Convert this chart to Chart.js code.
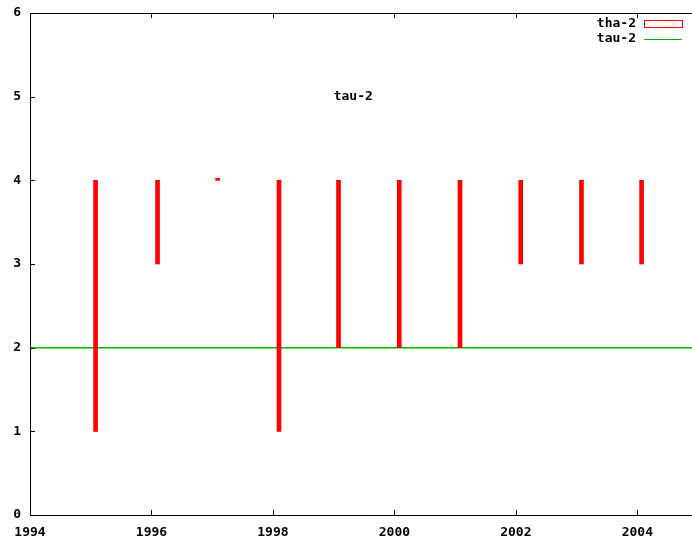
<!DOCTYPE html>
<html>
<head>
<meta charset="utf-8">
<script src="https://cdn.jsdelivr.net/npm/chart.js@4"></script>
<style>
  html, body { margin: 0; padding: 0; background: #fff; }
  #wrap { width: 692px; height: 542px; }
</style>
</head>
<body>
<div id="wrap"><canvas id="chart" width="692" height="542"></canvas></div>
<script>
// Data
const years = [1995.08, 1996.1, 1997.09, 1998.1, 1999.08, 2000.08, 2001.08, 2002.08, 2003.08, 2004.07];
const lows  = [1, 3, 4, 1, 2, 2, 2, 3, 3, 3];
const highs = [4, 4, 4, 4, 4, 4, 4, 4, 4, 4];
const tauLevel = 2;
const xMin = 1994;
const xMax = 2004.9;
const yTicks = [0, 1, 2, 3, 4, 5, 6];
const xTicks = [1994, 1996, 1998, 2000, 2002, 2004];
const labelText = 'tau-2';
const labelAt = { x: 1999, y: 5 };

const FONT = '"DejaVu Sans Mono", monospace';
const RED = '#ff0000';
const GREEN = '#00b400';

// Build bar data (floating bars low..high)
const barData = years.map((yr, i) => ({ x: yr, y: [lows[i], highs[i]] }));
const lineData = [{ x: xMin, y: tauLevel }, { x: xMax, y: tauLevel }];

// Gnuplot-ish frame: top border, inward ticks, legend and label
const framePlugin = {
    id: 'frame',
    afterDraw(chart) {
        const ctx = chart.ctx;
        const area = chart.chartArea;
        const xs = chart.scales.x;
        const ys = chart.scales.y;
        ctx.save();
        ctx.strokeStyle = '#000';
        ctx.lineWidth = 1;
        ctx.beginPath();
        // top border
        ctx.moveTo(area.left, area.top + 0.5);
        ctx.lineTo(area.right, area.top + 0.5);
        // inward ticks on bottom and top
        xTicks.forEach(v => {
            const px = Math.round(xs.getPixelForValue(v)) + 0.5;
            ctx.moveTo(px, area.bottom);
            ctx.lineTo(px, area.bottom - 5);
            ctx.moveTo(px, area.top);
            ctx.lineTo(px, area.top + 5);
        });
        // inward ticks on left
        yTicks.forEach(v => {
            const py = Math.round(ys.getPixelForValue(v)) + 0.5;
            ctx.moveTo(area.left, py);
            ctx.lineTo(area.left + 5, py);
        });
        ctx.stroke();

        // label inside the plot
        ctx.font = 'bold 13px ' + FONT;
        ctx.fillStyle = '#000';
        ctx.textBaseline = 'middle';
        ctx.textAlign = 'left';
        ctx.fillText(labelText, xs.getPixelForValue(labelAt.x), ys.getPixelForValue(labelAt.y));

        // legend (text right-aligned, sample on the right)
        const ds = chart.data.datasets;
        const textRight = area.right - 56;
        const sampleLeft = area.right - 48;
        const sampleRight = area.right - 10;
        ctx.textAlign = 'right';
        ds.forEach((d, i) => {
            const cy = area.top + 11 + i * 15;
            ctx.fillStyle = '#000';
            ctx.fillText(d.label, textRight, cy);
            if (d.type === 'line') {
                ctx.strokeStyle = d.borderColor;
                ctx.beginPath();
                ctx.moveTo(sampleLeft, cy + 0.5);
                ctx.lineTo(sampleRight, cy + 0.5);
                ctx.stroke();
            } else {
                ctx.strokeStyle = d.backgroundColor;
                ctx.strokeRect(sampleLeft + 0.5, cy - 3.5, sampleRight - sampleLeft, 7);
            }
        });
        ctx.restore();
    }
};

new Chart(document.getElementById('chart'), {
    type: 'bar',
    data: {
        datasets: [
            {
                type: 'bar',
                label: 'tha-2',
                data: barData,
                backgroundColor: RED,
                borderWidth: 0,
                barThickness: 4,
                minBarLength: 2,
                grouped: false
            },
            {
                type: 'line',
                label: 'tau-2',
                data: lineData,
                borderColor: GREEN,
                borderWidth: 1.5,
                pointRadius: 0,
                fill: false
            }
        ]
    },
    options: {
        responsive: false,
        animation: false,
        layout: { padding: { top: 13, right: 0, left: 0, bottom: 0 } },
        plugins: {
            legend: { display: false },
            tooltip: { enabled: false }
        },
        scales: {
            x: {
                type: 'linear',
                offset: false,
                min: xMin,
                max: xMax,
                afterBuildTicks: s => { s.ticks = xTicks.map(v => ({ value: v })); },
                afterFit: s => { s.height = 27; s.paddingLeft = 0; s.paddingRight = 0; },
                grid: { display: false, drawTicks: false, offset: false },
                border: { display: true, color: '#000', width: 1 },
                ticks: {
                    color: '#000',
                    font: { family: FONT, size: 13, weight: 'bold' },
                    padding: 10,
                    maxRotation: 0,
                    callback: v => String(v)
                }
            },
            y: {
                min: 0,
                max: 6,
                afterBuildTicks: s => { s.ticks = yTicks.map(v => ({ value: v })); },
                afterFit: s => { s.width = 30; s.paddingTop = 0; s.paddingBottom = 0; },
                grid: { display: false, drawTicks: false },
                border: { display: true, color: '#000', width: 1 },
                ticks: {
                    color: '#000',
                    font: { family: FONT, size: 13, weight: 'bold' },
                    padding: 9
                }
            }
        }
    },
    plugins: [framePlugin]
});
</script>
</body>
</html>
